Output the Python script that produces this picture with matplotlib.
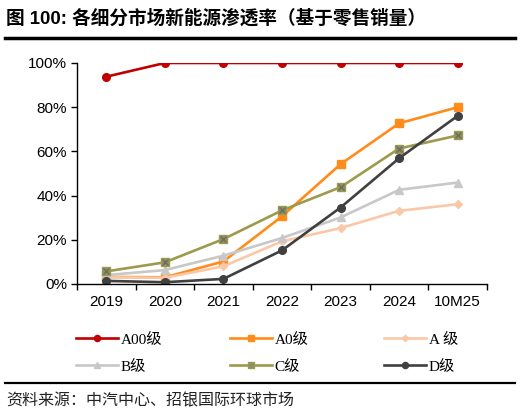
import matplotlib.pyplot as plt
from matplotlib.ticker import FixedLocator, NullFormatter, PercentFormatter

plt.rcParams['font.family'] = ['Liberation Sans', 'Noto Sans CJK SC']

years = ['2019', '2020', '2021', '2022', '2023', '2024', '10M25']
a00 = [93.8, 100, 100, 100, 100, 100, 100]
a0 = [3.2, 3.0, 10.2, 30.6, 54.2, 72.7, 80.0]
a = [3.0, 2.8, 8.0, 19.3, 25.3, 33.1, 36.1]
b = [4.0, 6.3, 12.8, 20.8, 30.1, 42.6, 45.9]
c = [5.7, 9.8, 20.3, 33.3, 43.8, 61.3, 67.2]
d = [1.4, 0.8, 2.3, 15.2, 34.6, 56.9, 76.1]
labels = ['A00级', 'A0级', 'A 级', 'B级', 'C级', 'D级']

fig = plt.figure(figsize=(5.2, 4.18), dpi=100)
ax = fig.add_axes([0.148, 0.3206, 0.7885, 0.5287])

x = range(len(years))
lw = 1.9
h1, = ax.plot(x, a00, color='#C00000', lw=lw, marker='o', ms=5.5)
h2, = ax.plot(x, a0, color='#FF8C1A', lw=lw, marker='s', ms=5.5)
h3, = ax.plot(x, a, color='#FAC8A6', lw=lw, marker='D', ms=4)
h4, = ax.plot(x, b, color='#C8C8C8', lw=lw, marker='^', ms=5.5)
h5, = ax.plot(x, c, color='#9C9A4C', lw=lw, marker='s', ms=6,
              markerfacecolor='#8E8E6E', markeredgecolor='#9C9A4C')
ax.plot(x, c, ls='none', marker='x', ms=4, color='#6E6E5A', mew=1)
h6, = ax.plot(x, d, color='#404040', lw=lw, marker='o', ms=5.5)

ax.set_xlim(-0.5, len(years) - 0.5)
ax.set_ylim(0, 100)
ax.yaxis.set_major_locator(FixedLocator([0, 20, 40, 60, 80, 100]))
ax.yaxis.set_major_formatter(PercentFormatter(decimals=0))
ax.set_xticks(list(x))
ax.set_xticklabels(years)
ax.xaxis.set_minor_locator(FixedLocator([i - 0.5 for i in range(len(years) + 1)]))
ax.xaxis.set_minor_formatter(NullFormatter())
ax.tick_params(axis='x', which='major', length=0, labelsize=11, pad=8, colors='#000000')
ax.tick_params(axis='x', which='minor', length=4, width=1, direction='out')
ax.tick_params(axis='y', length=4, width=1, direction='out', labelsize=11, pad=3)
for s in ['top', 'right']:
    ax.spines[s].set_visible(False)
for s in ['left', 'bottom']:
    ax.spines[s].set_linewidth(1)

lfont = {'family': ['Liberation Serif', 'Noto Sans CJK SC'], 'size': 11}
handles = [h1, h2, h3, h4, h5, h6]
for i, xpos in enumerate([0.147, 0.443, 0.739]):
    leg = fig.legend([handles[i], handles[i + 3]], [labels[i], labels[i + 3]],
                     loc='upper left', bbox_to_anchor=(xpos, 0.205), frameon=False,
                     prop=lfont, handlelength=2.7, handletextpad=0.2, labelspacing=0.85,
                     borderaxespad=0, borderpad=0, markerscale=0.8)

fig.text(0.012, 0.955, '图 100: 各细分市场新能源渗透率（基于零售销量）',
         fontsize=13.4, fontweight='bold', va='center', ha='left',
         family=['Liberation Sans', 'Noto Sans CJK SC'])
fig.add_artist(plt.Line2D([0.01, 0.99], [0.908, 0.908], color='black', lw=2.5))
fig.add_artist(plt.Line2D([0.01, 0.99], [0.084, 0.084], color='black', lw=1.6))
fig.text(0.012, 0.042, '资料来源：中汽中心、招银国际环球市场', fontsize=11.5,
         va='center', ha='left', family=['Noto Sans CJK SC'], color='#222222')

fig.savefig('out.png', dpi=100)
